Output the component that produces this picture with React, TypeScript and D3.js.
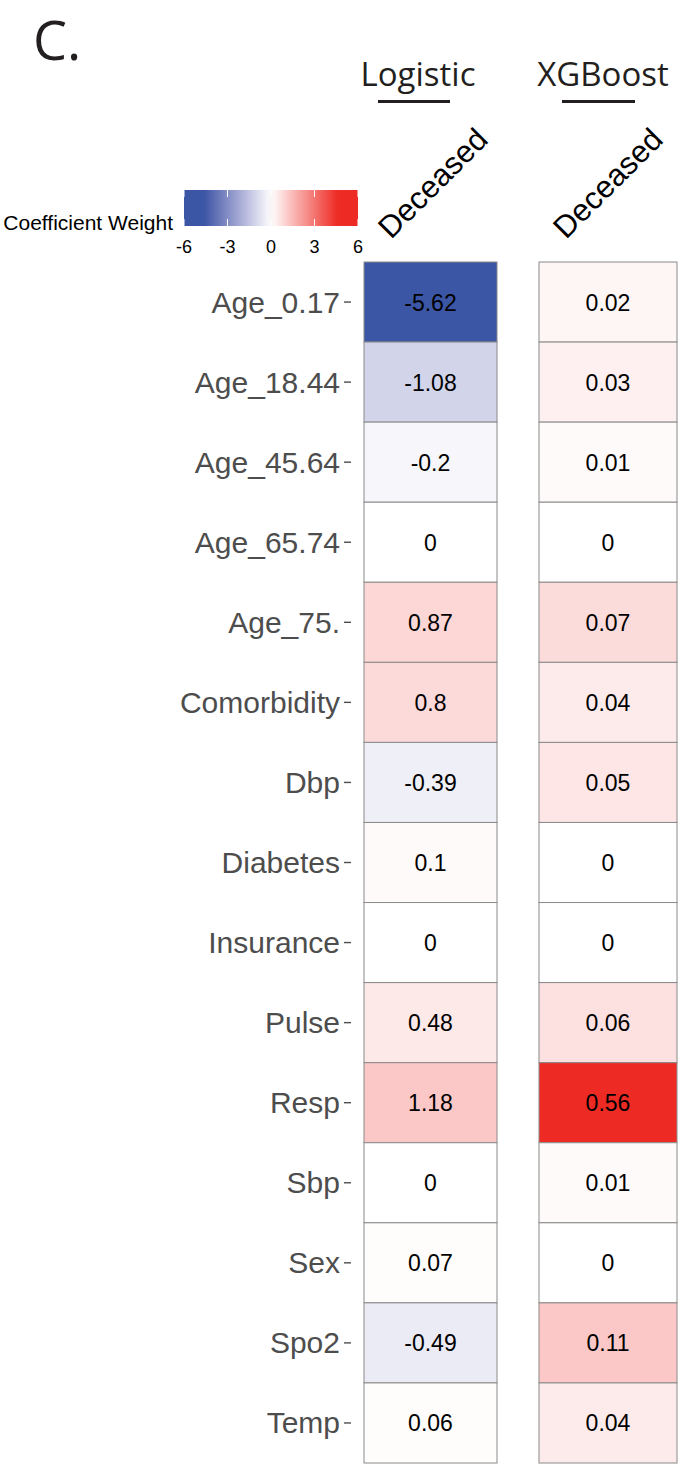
import React from 'react';
import * as d3 from 'd3';

const features = [
  'Age_0.17', 'Age_18.44', 'Age_45.64', 'Age_65.74', 'Age_75.', 'Comorbidity', 'Dbp',
  'Diabetes', 'Insurance', 'Pulse', 'Resp', 'Sbp', 'Sex', 'Spo2', 'Temp',
];
const logisticValues = [-5.62, -1.08, -0.2, 0, 0.87, 0.8, -0.39, 0.1, 0, 0.48, 1.18, 0, 0.07, -0.49, 0.06];
const xgboostValues = [0.02, 0.03, 0.01, 0, 0.07, 0.04, 0.05, 0, 0, 0.06, 0.56, 0.01, 0, 0.11, 0.04];
const legendTicks = [-6, -3, 0, 3, 6];
const models = ['Logistic', 'XGBoost'];
const outcome = 'Deceased';

const LOW = '#3B56A5';
const HIGH = '#EE2A24';

// blue half goes through lavender, red half stays pink; saturates before the legend ends
const divergeFill = (t: number) =>
  t < 0.5
    ? d3.interpolateLab(LOW, '#FFFFFF')(t * 2)
    : d3.interpolateRgb('#FFFFFF', HIGH)((t - 0.5) * 2);

const makeColor = (lim: number) =>
  d3.scaleDiverging(divergeFill).domain([-lim, 0, lim]).clamp(true);

export default function App() {
  const W = 686, H = 1468;
  const y = d3.scaleBand<string>().domain(features).range([262, 1463]).padding(0);
  const columns = [
    { name: models[0], x0: 364, x1: 497, head: 418, line: [378, 450], values: logisticValues, color: makeColor(4.6) },
    { name: models[1], x0: 539, x1: 677, head: 603, line: [562, 635], values: xgboostValues, color: makeColor(0.56 * 4.6 / 6) },
  ];
  const legendX = d3.scaleLinear().domain([-6, 6]).range([184, 358]);
  const legendColor = columns[0].color;
  const stops = d3.range(0, 1.0001, 0.04).map(t => ({ t, c: legendColor(-6 + 12 * t) }));
  const sans = '"Liberation Sans", Arial, sans-serif';
  const head = '"Open Sans", sans-serif';

  return (
    <div style={{ position: 'absolute', left: 0, top: 0 }}>
      <svg width={W} height={H} viewBox={`0 0 ${W} ${H}`} style={{ display: 'block', background: '#fff' }}>
        <defs>
          <linearGradient id="cw" x1="0" x2="1" y1="0" y2="0">
            {stops.map(s => <stop key={s.t} offset={s.t} stopColor={s.c} />)}
          </linearGradient>
        </defs>

        <text x={33} y={60} fontFamily={head} fontSize={54} fill="#231F20">C.</text>

        {columns.map(col => {
          const cx = (col.x0 + col.x1) / 2;
          return (
            <g key={col.name}>
              <text x={col.head} y={86} textAnchor="middle" fontFamily={head} fontSize={33} fill="#231F20">{col.name}</text>
              <line x1={col.line[0]} x2={col.line[1]} y1={101.5} y2={101.5} stroke="#231F20" strokeWidth={3} />
              <text transform={`translate(${col.x0 + 27},240) rotate(-45)`} fontFamily={sans} fontSize={31} fill="#000">{outcome}</text>
              {features.map((f, i) => (
                <g key={f}>
                  <rect x={col.x0} y={y(f)!} width={col.x1 - col.x0} height={y.bandwidth()}
                    fill={col.color(col.values[i])} stroke="#8A8A8A" strokeWidth={1} />
                  <text x={cx} y={y(f)! + y.bandwidth() / 2 + 8.5} textAnchor="middle"
                    fontFamily={sans} fontSize={23} fill="#000">{String(col.values[i])}</text>
                </g>
              ))}
            </g>
          );
        })}

        {features.map(f => {
          const cy = y(f)! + y.bandwidth() / 2;
          return (
            <g key={f}>
              <text x={340} y={cy + 10.5} textAnchor="end" fontFamily={sans} fontSize={30} fill="#4D4D4D">{f}</text>
              <line x1={344} x2={351} y1={cy} y2={cy} stroke="#4D4D4D" strokeWidth={1.4} />
            </g>
          );
        })}

        <text x={173} y={230} textAnchor="end" fontFamily={sans} fontSize={21} fill="#000">Coefficient Weight</text>
        <rect x={legendX(-6)} y={190} width={legendX(6) - legendX(-6)} height={36} fill="url(#cw)" />
        {legendTicks.map(t => (
          <g key={t}>
            <line x1={legendX(t)} x2={legendX(t)} y1={190} y2={197} stroke="#fff" strokeWidth={1} />
            <line x1={legendX(t)} x2={legendX(t)} y1={219} y2={226} stroke="#fff" strokeWidth={1} />
            <text x={legendX(t)} y={253} textAnchor="middle" fontFamily={sans} fontSize={18} fill="#000">{t}</text>
          </g>
        ))}
      </svg>
    </div>
  );
}
